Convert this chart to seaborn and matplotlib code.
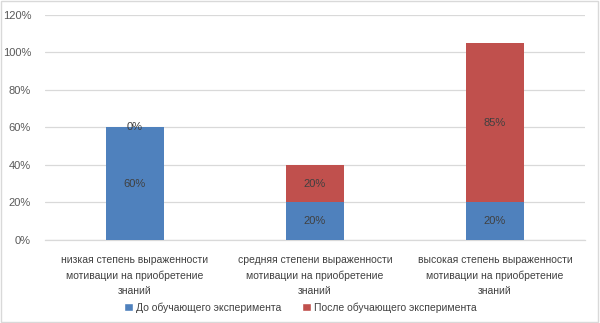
import matplotlib
matplotlib.use("Agg")
import matplotlib.pyplot as plt
import seaborn as sns
import pandas as pd
from matplotlib.patches import Patch, Rectangle

categories = [
    "низкая степень выраженности\nмотивации на приобретение\nзнаний",
    "средняя степени выраженности\nмотивации на приобретение\nзнаний",
    "высокая степень выраженности\nмотивации на приобретение\nзнаний",
]
series_names = ["До обучающего эксперимента", "После обучающего эксперимента"]
before = [60, 20, 20]
after = [0, 20, 85]
yticks = [0, 20, 40, 60, 80, 100, 120]

blue = "#4F81BD"
red = "#C0504D"

sns.set_theme(style="white")
plt.rcParams["font.family"] = ["Liberation Sans", "DejaVu Sans"]

df = pd.DataFrame({"cat": categories, "before": before, "after": after})
df["total"] = df["before"] + df["after"]

fig = plt.figure(figsize=(6.0, 3.23), dpi=100)
ax = fig.add_axes([0.075, 0.257, 0.9, 0.6966])

sns.barplot(data=df, x="cat", y="total", color=red, saturation=1, width=0.317, ax=ax,
            zorder=3, linewidth=0, edgecolor="none")
sns.barplot(data=df, x="cat", y="before", color=blue, saturation=1, width=0.317, ax=ax,
            zorder=4, linewidth=0, edgecolor="none")

for i, (b, a) in enumerate(zip(before, after)):
    ax.text(i, b / 2, f"{b}%", ha="center", va="center", fontsize=8, color="#404040", zorder=5)
    ax.text(i, b + a / 2, f"{a}%", ha="center", va="center", fontsize=8, color="#404040", zorder=5)

ax.set_ylim(0, 120)
ax.set_xlim(-0.5, 2.5)
ax.set_yticks(yticks)
ax.set_yticklabels([f"{t}%" for t in yticks], fontsize=8, color="#595959")
ax.tick_params(axis="y", length=0, pad=10)
ax.tick_params(axis="x", length=0, pad=11)
ax.set_xticks(range(len(categories)))
ax.set_xticklabels(categories, fontsize=7.5, color="#404040", linespacing=1.6)
ax.set_xlabel("")
ax.set_ylabel("")
ax.yaxis.grid(True, color="#D9D9D9", linewidth=0.9, zorder=0)
ax.set_axisbelow(True)
for s in ["top", "right", "left"]:
    ax.spines[s].set_visible(False)
ax.spines["bottom"].set_color("#D9D9D9")
ax.spines["bottom"].set_linewidth(0.9)

handles = [Patch(facecolor=blue), Patch(facecolor=red)]
fig.legend(handles, series_names, loc="center", bbox_to_anchor=(0.5, 0.048), ncol=2,
           frameon=False, fontsize=7.5, handlelength=0.9, handleheight=0.9,
           handletextpad=0.25, columnspacing=2.0, labelcolor="#404040")

fig.patches.append(Rectangle((0.002, 0.003), 0.995, 0.994, transform=fig.transFigure,
                             fill=False, edgecolor="#D9D9D9", linewidth=1))

fig.savefig("out.png", dpi=100)
